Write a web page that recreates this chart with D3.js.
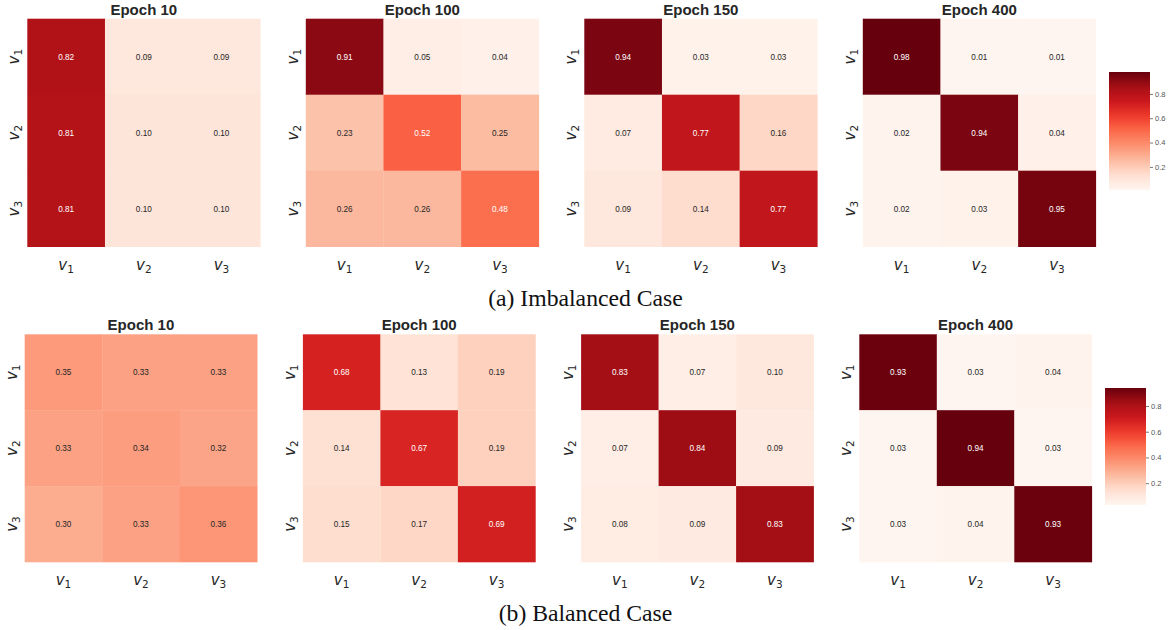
<!DOCTYPE html>
<html><head><meta charset="utf-8">
<script src="https://cdn.jsdelivr.net/npm/d3@7"></script>
<style>body{margin:0;background:#fff}svg{display:block}</style>
</head><body>
<svg id="c" width="1171" height="630"></svg>
<script>
const epochs = ["Epoch 10", "Epoch 100", "Epoch 150", "Epoch 400"];
const subs = ["1", "2", "3"];
const imbalanced = [
  [[0.82,0.09,0.09],[0.81,0.10,0.10],[0.81,0.10,0.10]],
  [[0.91,0.05,0.04],[0.23,0.52,0.25],[0.26,0.26,0.48]],
  [[0.94,0.03,0.03],[0.07,0.77,0.16],[0.09,0.14,0.77]],
  [[0.98,0.01,0.01],[0.02,0.94,0.04],[0.02,0.03,0.95]]
];
const balanced = [
  [[0.35,0.33,0.33],[0.33,0.34,0.32],[0.30,0.33,0.36]],
  [[0.68,0.13,0.19],[0.14,0.67,0.19],[0.15,0.17,0.69]],
  [[0.83,0.07,0.10],[0.07,0.84,0.09],[0.08,0.09,0.83]],
  [[0.93,0.03,0.04],[0.03,0.94,0.03],[0.03,0.04,0.93]]
];
const captions = ["(a) Imbalanced Case", "(b) Balanced Case"];
const cbarTicks = [0.2, 0.4, 0.6, 0.8];
const redsStops = ["#fff5f0","#fee0d2","#fcbba1","#fc9272","#fb6a4a","#ef3b2c","#cb181d","#a50f15","#67000d"];

const svg = d3.select("#c");
const defs = svg.append("defs");

const rows = [
  {data: imbalanced, caption: captions[0], x0: 27.3, x3: 862.8, top: 18.7, bottom: 246.7, w: 233,
   cb: {x: 1109, w: 41, top: 72, bottom: 190}, capY: 305.5},
  {data: balanced, caption: captions[1], x0: 24.7, x3: 859.3, top: 334.3, bottom: 562, w: 232.5,
   cb: {x: 1105, w: 41, top: 388, bottom: 505}, capY: 620.5}
];

function lum(c) {
  const k = d3.rgb(c);
  const f = v => { v /= 255; return v <= 0.03928 ? v / 12.92 : Math.pow((v + 0.055) / 1.055, 2.4); };
  return 0.2126 * f(k.r) + 0.7152 * f(k.g) + 0.0722 * f(k.b);
}

function vLabel(sel, sub) {
  sel.text(null);
  sel.append("tspan").attr("font-family", "DejaVu Sans").attr("font-style", "italic")
    .attr("font-size", 15).text("v");
  sel.append("tspan").attr("font-family", "DejaVu Sans").attr("font-size", 10.5)
    .attr("dy", 3).text(sub);
}

rows.forEach((row, ri) => {
  const all = row.data.flat(2);
  const vmin = d3.min(all), vmax = d3.max(all);
  const color = d3.scaleLinear()
    .domain(redsStops.map((_, i) => vmin + (vmax - vmin) * i / (redsStops.length - 1)))
    .range(redsStops).interpolate(d3.interpolateRgb).clamp(true);

  const panelX = d3.scaleLinear().domain([0, 3]).range([row.x0, row.x3]);

  row.data.forEach((mat, pi) => {
    const g = svg.append("g").attr("transform", `translate(${panelX(pi)},${row.top})`);
    const h = row.bottom - row.top;
    const xs = d3.scaleBand().domain(subs).range([0, row.w]);
    const ys = d3.scaleBand().domain(subs).range([0, h]);

    mat.forEach((r, i) => r.forEach((v, j) => {
      const c = color(v);
      g.append("rect").attr("x", xs(subs[j])).attr("y", ys(subs[i]))
        .attr("width", xs.bandwidth() + 0.3).attr("height", ys.bandwidth() + 0.3)
        .attr("fill", c);
      g.append("text").attr("x", xs(subs[j]) + xs.bandwidth() / 2)
        .attr("y", ys(subs[i]) + ys.bandwidth() / 2 + 3)
        .attr("text-anchor", "middle").attr("font-family", "Liberation Sans, Arial, sans-serif")
        .attr("font-size", 8.2).attr("fill", lum(c) > 0.408 ? "#262626" : "#ffffff")
        .text(v.toFixed(2));
    }));

    g.append("text").attr("x", row.w / 2).attr("y", -4).attr("text-anchor", "middle")
      .attr("font-family", "Liberation Sans, Arial, sans-serif").attr("font-weight", "bold")
      .attr("font-size", 15).attr("fill", "#262626").text(epochs[pi]);

    const xa = g.append("g").attr("transform", `translate(0,${h})`)
      .call(d3.axisBottom(xs).tickSize(0).tickPadding(16));
    xa.select(".domain").remove();
    xa.selectAll("text").attr("fill", "#262626").each(function(d) { vLabel(d3.select(this), d); });

    const ya = g.append("g").call(d3.axisLeft(ys).tickSize(0).tickPadding(0));
    ya.select(".domain").remove();
    ya.selectAll(".tick text")
      .attr("x", null).attr("dy", null).attr("text-anchor", "middle")
      .attr("transform", "translate(-8,0) rotate(-90)")
      .attr("fill", "#262626")
      .each(function(d) { vLabel(d3.select(this), d); });
  });

  const cb = row.cb;
  const gid = "grad" + ri;
  const grad = defs.append("linearGradient").attr("id", gid)
    .attr("x1", 0).attr("y1", 1).attr("x2", 0).attr("y2", 0);
  d3.range(0, 1.0001, 0.05).forEach(t => {
    grad.append("stop").attr("offset", t).attr("stop-color", color(vmin + t * (vmax - vmin)));
  });
  svg.append("rect").attr("x", cb.x).attr("y", cb.top).attr("width", cb.w)
    .attr("height", cb.bottom - cb.top).attr("fill", `url(#${gid})`);
  const cs = d3.scaleLinear().domain([vmin, vmax]).range([cb.bottom, cb.top]);
  const ca = svg.append("g").attr("transform", `translate(${cb.x + cb.w},0)`)
    .call(d3.axisRight(cs).tickValues(cbarTicks).tickSize(3).tickPadding(2).tickFormat(d3.format(".1f")));
  ca.select(".domain").remove();
  ca.selectAll("line").attr("stroke", "#555").attr("stroke-width", 0.8);
  ca.selectAll("text").attr("font-family", "Liberation Sans, Arial, sans-serif")
    .attr("font-size", 7.5).attr("fill", "#555");

  svg.append("text").attr("x", 585.5).attr("y", row.capY).attr("text-anchor", "middle")
    .attr("font-family", "Liberation Serif, Times New Roman, serif").attr("font-size", 23.7)
    .attr("fill", "#111").text(row.caption);
});
</script>
</body></html>
